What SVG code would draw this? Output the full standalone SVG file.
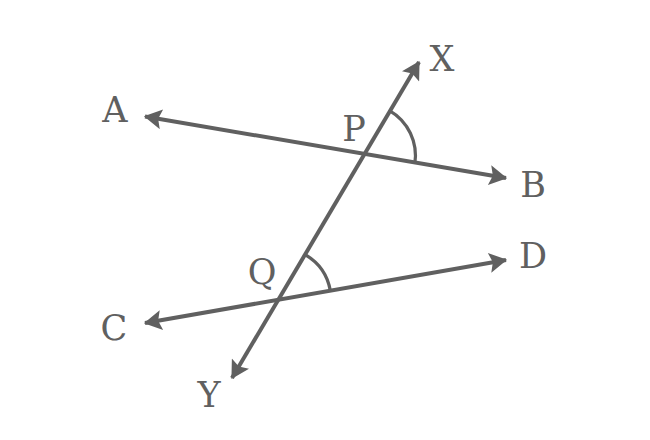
<svg xmlns="http://www.w3.org/2000/svg" width="650" height="440" viewBox="0 0 650 440">
<style>
.ln{stroke:#606060;stroke-width:4;fill:none;marker-start:url(#ah);marker-end:url(#ah)}
.arc{stroke:#606060;stroke-width:3.2;fill:none}
.lb{font-family:"DejaVu Serif","Liberation Serif",serif;font-size:35px;fill:#606060;text-anchor:middle}
</style>
<defs>
<marker id="ah" markerUnits="userSpaceOnUse" markerWidth="20" markerHeight="20" viewBox="0 0 16 18" refX="15" refY="9" orient="auto-start-reverse">
<path d="M0,0 L16,9 L0,18 L3,9 z" fill="#606060"/>
</marker>
</defs>
<rect width="650" height="440" fill="#ffffff"/>
<g id="connectors">
<line id="AB" class="ln" x1="145" y1="116.5" x2="506" y2="178"/>
<line id="CD" class="ln" x1="145" y1="323" x2="506" y2="260"/>
<line id="XY" class="ln" x1="419" y1="62" x2="232" y2="378"/>
<path id="angleP" class="arc" d="M389.5,110.6 A52,52 0 0 1 414.8,163.8"/>
<path id="angleQ" class="arc" d="M305.5,254.8 A52,52 0 0 1 330.3,290.6"/>
</g>
<g id="node-A"><text class="lb" x="115" y="122">A</text></g>
<g id="node-B"><text class="lb" x="533" y="197">B</text></g>
<g id="node-C"><text class="lb" x="114" y="340">C</text></g>
<g id="node-D"><text class="lb" x="533" y="268">D</text></g>
<g id="node-X"><text class="lb" x="442" y="71">X</text></g>
<g id="node-Y"><text class="lb" x="209" y="407">Y</text></g>
<g id="node-P"><text class="lb" x="354" y="141">P</text></g>
<g id="node-Q"><text class="lb" x="262" y="284">Q</text></g>
</svg>
